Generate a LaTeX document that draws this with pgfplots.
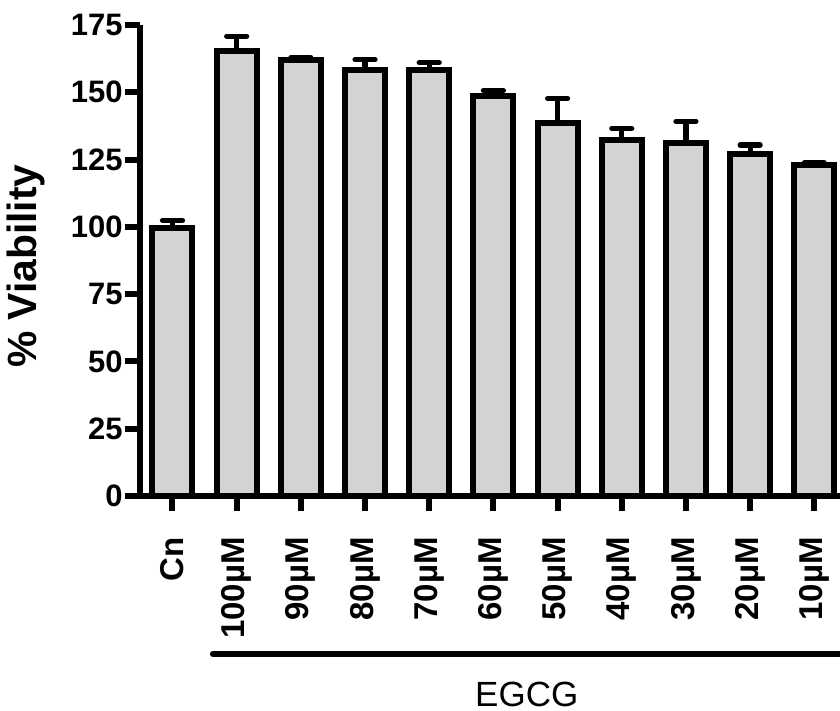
\documentclass[border=0pt]{standalone}
\usepackage{fontspec}
\setmainfont{Liberation Sans}
\usepackage{pgfplots}
\pgfplotsset{compat=1.18}
\definecolor{barfill}{HTML}{D3D3D3}
\begin{document}
\begin{tikzpicture}
\useasboundingbox (0,0) rectangle (420pt,355.5pt);
\begin{axis}[
  at={(70pt,107.5pt)}, anchor=south west,
  scale only axis, width=350pt, height=235.5pt,
  xmin=-0.506, xmax=10.40, ymin=0, ymax=175,
  axis lines=left,
  axis line style={line width=3pt, -},
  every tick/.style={black, line width=3pt},
  tick align=outside,
  major tick length=7.5pt,
  ytick={0,25,...,175},
  xtick={0,...,10},
  xticklabels={Cn,100µM,90µM,80µM,70µM,60µM,50µM,40µM,30µM,20µM,10µM},
  /pgf/number format/assume math mode=true,
  yticklabel style={font=\fontsize{15.5}{16}\selectfont\bfseries, inner sep=1pt},
  xticklabel style={font=\fontsize{16.5}{17}\selectfont\bfseries, rotate=90, anchor=east, inner sep=1pt},
  xticklabel shift=12pt,
  ylabel={\% Viability},
  ylabel style={font=\fontsize{20.4}{21}\selectfont\bfseries, at={(axis description cs:-0.163,0.488)}, anchor=center},
  clip=false,
]
\addplot[ybar, bar width=20pt, fill=barfill, draw=black, line width=3pt,
  error bars/.cd, y dir=plus, y explicit,
  error bar style={line width=2.6pt, black},
  error mark options={rotate=90, mark size=5pt, line width=2.6pt, line cap=round, black}]
  table[x=x, y=y, y error=e] {
x y e
0 99.7 2.7
1 165.4 5.4
2 162.0 0.8
3 158.4 3.7
4 158.4 2.6
5 148.6 2.0
6 138.6 9.1
7 132.4 4.2
8 131.2 8.0
9 127.0 3.4
10 122.9 0.8
};
\draw[line width=3pt, line cap=round] (axis cs:0.63,-58.7) -- (axis cs:10.7,-58.7);
\node[font=\fontsize{17.5}{18}\selectfont, inner sep=0pt] at (axis cs:5.52,-73.7) {EGCG};
\end{axis}
\end{tikzpicture}
\end{document}
